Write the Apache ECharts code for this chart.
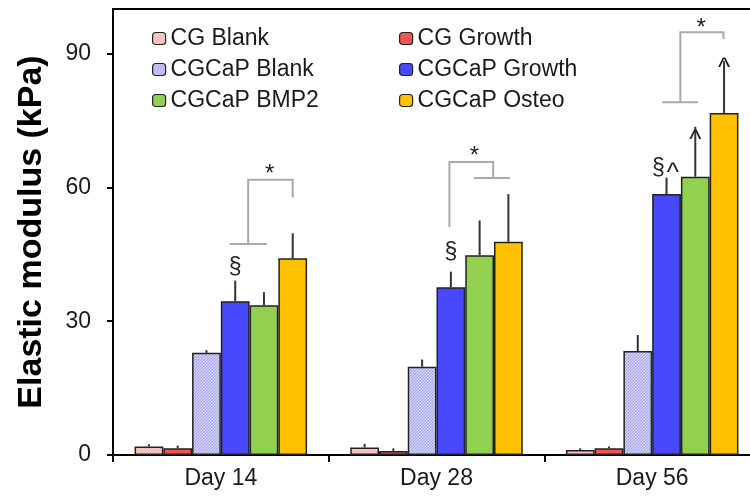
<!DOCTYPE html>
<html><head><meta charset="utf-8">
<script src="https://cdn.jsdelivr.net/npm/echarts@6/dist/echarts.min.js"></script>
<style>html,body{margin:0;padding:0;background:#fff;overflow:hidden}#c{width:750px;height:504px}</style>
</head><body><div id="c"></div>
<script>
// ---- data ----
const categories = ['Day 14', 'Day 28', 'Day 56'];
const seriesNames = ['CG Blank', 'CG Growth', 'CGCaP Blank', 'CGCaP Growth', 'CGCaP BMP2', 'CGCaP Osteo'];
const cgBlank = [1.9, 1.7, 1.1];
const cgGrowth = [1.5, 0.9, 1.5];
const cgcapBlank = [22.9, 19.8, 23.3];
const cgcapGrowth = [34.5, 37.6, 58.5];
const cgcapBMP2 = [33.6, 44.8, 62.4];
const cgcapOsteo = [44.1, 47.8, 76.7];
const cgBlankErr = [0.5, 0.8, 0.4];
const cgGrowthErr = [0.6, 0.6, 0.4];
const cgcapBlankErr = [0.6, 1.6, 3.6];
const cgcapGrowthErr = [4.6, 3.5, 3.7];
const cgcapBMP2Err = [2.9, 7.8, 11.2];
const cgcapOsteoErr = [5.6, 10.7, 11.6];
const yTicks = [0, 30, 60, 90];

// significance annotations (category index, bar-slot position, value)
const bracketCat = [0, 1, 2];
const bracketLeftPos = [3.45, 2.95, 3.48];
const bracketLeftLow = [47.3, 51.1, 79.1];
const bracketRightPos = [5.0, 4.47, 4.98];
const bracketRightLow = [57.8, 62.1, 93.3];
const bracketTop = [61.7, 65.7, 94.8];
const bracketBaseFrom = [2.8, 3.8, 2.85];
const bracketBaseTo = [4.1, 5.05, 4.1];
const bracketBaseAtLeft = [1, 0, 1];

const markText = ['*', '§', '*', '§', '*', '^', '^', '§', '^'];
const markCat = [0, 0, 1, 1, 2, 2, 2, 2, 2];
const markPos = [4.2, 3.0, 3.82, 3.0, 4.2, 5.0, 4.0, 2.72, 3.22];
const markVal = [64.3, 41.9, 68.2, 45.3, 96.9, 87.7, 71.5, 64.1, 64.1];

// ---- styling helpers ----
function hatch(base, line) {
  const c = document.createElement('canvas');
  c.width = 3; c.height = 3;
  const g = c.getContext('2d');
  g.fillStyle = base; g.fillRect(0, 0, 3, 3);
  g.fillStyle = line;
  g.fillRect(2, 0, 1, 1); g.fillRect(1, 1, 1, 1); g.fillRect(0, 2, 1, 1);
  return { image: c, repeat: 'repeat' };
}
const colors = [
  hatch('#FAD0D0', '#E6A8A8'),
  '#F25454',
  hatch('#CDCDF8', '#A2A2E6'),
  '#4848FF',
  '#92D050',
  '#FFC000'
];
const values = [cgBlank, cgGrowth, cgcapBlank, cgcapGrowth, cgcapBMP2, cgcapOsteo];
const errs = [cgBlankErr, cgGrowthErr, cgcapBlankErr, cgcapGrowthErr, cgcapBMP2Err, cgcapOsteoErr];
const FONT = '"Liberation Sans", Arial, sans-serif';
const GAP = 0.2, NB = 6;

function slotX(api, cat, pos) {
  const bw = api.size([1, 0])[0];
  const barW = bw * (1 - GAP) / NB;
  const c = api.coord([cat, 0])[0];
  return c + (pos - (NB - 1) / 2) * barW;
}

const barSeries = seriesNames.map((n, i) => ({
  name: n, type: 'bar', data: values[i],
  barGap: 0, barCategoryGap: (GAP * 100) + '%',
  itemStyle: { color: colors[i], borderColor: '#222', borderWidth: 1.5 },
  emphasis: { disabled: true }, z: 2
}));

const errData = [];
errs.forEach((arr, s) => arr.forEach((e, c) => errData.push([c, values[s][c], e, s])));

const errSeries = {
  type: 'custom', data: errData, z: 3, silent: true, clip: true,
  encode: { x: 0, y: 1 },
  renderItem(params, api) {
    const c = api.value(0), v = api.value(1), e = api.value(2), s = api.value(3);
    const x = slotX(api, c, s);
    const y0 = api.coord([c, v])[1], y1 = api.coord([c, v + e])[1];
    return { type: 'line', shape: { x1: x, y1: y0, x2: x, y2: y1 }, style: { stroke: '#333', lineWidth: 2 } };
  }
};

const bracketSeries = {
  type: 'custom', data: bracketCat.map((c, i) => [c, bracketTop[i]]), z: 4, silent: true,
  encode: { x: 0, y: 1 },
  renderItem(params, api) {
    const i = params.dataIndex, c = bracketCat[i];
    const y = v => api.coord([c, v])[1];
    const xl = slotX(api, c, bracketLeftPos[i]), xr = slotX(api, c, bracketRightPos[i]);
    const st = { stroke: '#AAAAAA', lineWidth: 2, fill: null };
    const baseY = bracketBaseAtLeft[i] ? y(bracketLeftLow[i]) : y(bracketRightLow[i]);
    return { type: 'group', children: [
      { type: 'polyline', shape: { points: [[xl, y(bracketLeftLow[i])], [xl, y(bracketTop[i])], [xr, y(bracketTop[i])], [xr, y(bracketRightLow[i])]] }, style: st },
      { type: 'line', shape: { x1: slotX(api, c, bracketBaseFrom[i]), y1: baseY, x2: slotX(api, c, bracketBaseTo[i]), y2: baseY }, style: st }
    ] };
  }
};

const markSeries = {
  type: 'custom', data: markCat.map((c, i) => [c, markVal[i]]), z: 5, silent: true,
  encode: { x: 0, y: 1 },
  renderItem(params, api) {
    const i = params.dataIndex, c = markCat[i];
    const t = markText[i];
    const size = t === '^' ? 26 : (t === '*' ? 24 : 23);
    const dy = t === '*' ? 6 : (t === '^' ? 5 : 0);
    return { type: 'text', x: slotX(api, c, markPos[i]), y: api.coord([c, markVal[i]])[1] + dy,
      style: { text: t, font: size + 'px ' + FONT, fill: '#222', align: 'center', verticalAlign: 'middle' } };
  }
};

const legendCommon = {
  orient: 'vertical', itemWidth: 13, itemHeight: 12, itemGap: 8, selectedMode: false,
  textStyle: { fontFamily: FONT, fontSize: 23, color: '#1a1a1a', lineHeight: 22 },
  itemStyle: { borderColor: '#222', borderWidth: 1.2 }, top: 22
};

const chart = echarts.init(document.getElementById('c'), null, { renderer: 'canvas' });
chart.setOption({
  animation: false,
  backgroundColor: '#fff',
  grid: { left: 113, top: 9, width: 647, height: 446, show: false, outerBoundsMode: 'none' },
  legend: [
    Object.assign({ data: [seriesNames[0], seriesNames[2], seriesNames[4]], left: 147 }, legendCommon),
    Object.assign({ data: [seriesNames[1], seriesNames[3], seriesNames[5]], left: 394 }, legendCommon)
  ],
  xAxis: [{
    type: 'category', data: categories,
    axisLine: { lineStyle: { color: '#000', width: 2 } },
    axisTick: { show: true, length: 7, lineStyle: { color: '#000', width: 2 } },
    axisLabel: { fontFamily: FONT, fontSize: 23, color: '#1a1a1a', margin: 12 },
    splitLine: { show: false }
  }, {
    type: 'category', data: categories, position: 'top',
    axisLine: { show: true, lineStyle: { color: '#000', width: 2 } },
    axisTick: { show: false }, axisLabel: { show: false }, splitLine: { show: false }
  }],
  yAxis: {
    type: 'value', min: 0, max: 100, interval: 30,
    name: 'Elastic modulus (kPa)', nameLocation: 'middle', nameGap: 64,
    nameTextStyle: { fontFamily: FONT, fontSize: 34, fontWeight: 'bold', color: '#000' },
    splitLine: { show: false },
    axisLine: { show: true, lineStyle: { color: '#000', width: 2 } },
    axisTick: { show: true, length: 6, lineStyle: { color: '#000', width: 2 }, customValues: yTicks },
    axisLabel: { fontFamily: FONT, fontSize: 23, color: '#1a1a1a', margin: 22, customValues: yTicks }
  },
  graphic: [{ type: 'rect', right: 0, top: 12, z: 1000, silent: true,
    shape: { width: 5, height: 441 }, style: { fill: '#fff' } }],
  series: barSeries.concat([errSeries, bracketSeries, markSeries])
});
</script>
</body></html>
